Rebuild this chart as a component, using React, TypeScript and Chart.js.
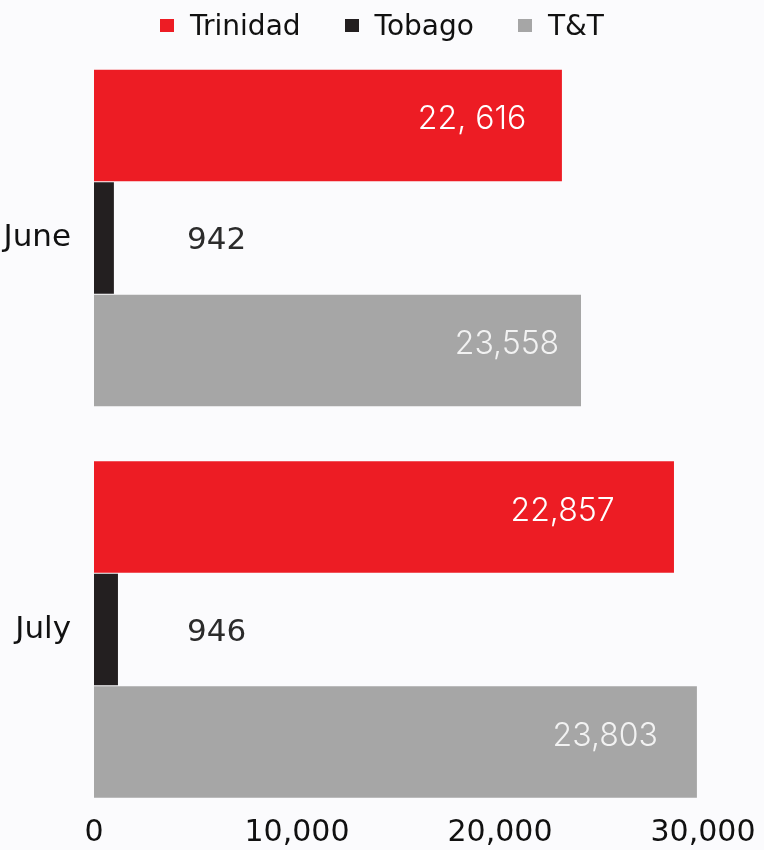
import { useEffect, useRef } from 'react';
import { Chart, registerables } from 'chart.js';

Chart.register(...registerables);

// ---- data ----
const categories = ['June', 'July'];
const seriesNames = ['Trinidad', 'Tobago', 'T&T'];
const trinidadValues = [23050, 28570];
const tobagoValues = [980, 1180];
const ttValues = [23990, 29700];
const trinidadLabels = ['22, 616', '22,857'];
const tobagoLabels = ['942', '946'];
const ttLabels = ['23,558', '23,803'];
const xTickValues = [0, 10000, 20000, 30000];

const seriesColors = ['#ED1C24', '#231F20', '#A6A6A6'];

const valueLabelPlugin = {
  id: 'valueLabels',
  afterDatasetsDraw(chart: any) {
    const ctx = chart.ctx;
    chart.data.datasets.forEach((ds: any, di: number) => {
      const meta = chart.getDatasetMeta(di);
      const labels: string[] = ds.valueLabels;
      meta.data.forEach((bar: any, i: number) => {
        const { x, y, base } = bar.getProps(['x', 'y', 'base'], true);
        ctx.save();
        ctx.textBaseline = 'middle';
        if (ds.labelInside) {
          ctx.font = '300 32px Inter, "Noto Sans", sans-serif';
          ctx.fillStyle = ds.labelColor;
          ctx.textAlign = 'center';
          ctx.fillText(labels[i], base + ds.labelFrac * (x - base), y - 6);
        } else {
          ctx.font = '31px "DejaVu Sans", sans-serif';
          ctx.fillStyle = ds.labelColor;
          ctx.textAlign = 'left';
          ctx.fillText(labels[i], base + 93, y + 3);
        }
        ctx.restore();
      });
    });
  },
};

export default function App() {
  const canvasRef = useRef<HTMLCanvasElement>(null);

  useEffect(() => {
    const valueSets = [trinidadValues, tobagoValues, ttValues];
    const labelSets = [trinidadLabels, tobagoLabels, ttLabels];
    const inside = [true, false, true];
    const fracs = [0.808, 0, 0.848];
    const labelColors = ['#ffffff', '#2b2b2b', '#f2f2f2'];
    const chart = new Chart(canvasRef.current!, {
      type: 'bar',
      data: {
        labels: categories,
        datasets: seriesNames.map((name, i) => ({
          label: name,
          data: valueSets[i],
          backgroundColor: seriesColors[i],
          borderWidth: 0,
          categoryPercentage: 0.863,
          barPercentage: 0.99,
          valueLabels: labelSets[i],
          labelInside: inside[i],
          labelFrac: fracs[i],
          labelColor: labelColors[i],
        })) as any,
      },
      options: {
        indexAxis: 'y',
        animation: false,
        responsive: false,
        layout: { padding: { top: 42.25, right: 61, bottom: 0, left: 0 } },
        plugins: {
          legend: { display: false },
          tooltip: { enabled: false },
        },
        scales: {
          x: {
            min: 0,
            max: 30000,
            border: { display: false },
            grid: { display: false, drawTicks: false },
            afterBuildTicks: (scale: any) => {
              scale.ticks = xTickValues.map((v) => ({ value: v }));
            },
            afterFit: (scale: any) => {
              scale.height = 24.75;
              scale._computeLabelArea = () => undefined;
            },
            ticks: {
              padding: -10,
              color: '#111111',
              font: { family: '"DejaVu Sans"', size: 30 },
              callback: (v: any) => Number(v).toLocaleString('en-US'),
            },
          },
          y: {
            border: { display: false },
            grid: { display: false, drawTicks: false },
            afterFit: (scale: any) => {
              scale.width = 94;
              scale.paddingTop = 0;
              scale.paddingBottom = 0;
            },
            ticks: {
              padding: 23,
              color: '#111111',
              font: { family: '"DejaVu Sans"', size: 31 },
            },
          },
        },
      },
      plugins: [valueLabelPlugin],
    });
    return () => chart.destroy();
  }, []);

  return (
    <div
      style={{
        position: 'absolute',
        left: 0,
        top: 0,
        width: 764,
        height: 850,
        background: '#fbfbfd',
        overflow: 'hidden',
      }}
    >
      <canvas
        ref={canvasRef}
        width={764}
        height={850}
        style={{ position: 'absolute', left: 0, top: 0, width: 764, height: 850 }}
      />
      <div
        style={{
          position: 'absolute',
          top: 9,
          left: 0,
          width: 764,
          display: 'flex',
          justifyContent: 'center',
          alignItems: 'center',
          fontFamily: '"DejaVu Sans", sans-serif',
          fontSize: 28,
          lineHeight: 'normal',
          color: '#111111',
        }}
      >
        {seriesNames.map((name, i) => (
          <div
            key={name}
            style={{ display: 'flex', alignItems: 'center', marginLeft: i ? 44 : 0 }}
          >
            <span
              style={{
                display: 'inline-block',
                width: 14,
                height: 13,
                background: seriesColors[i],
                marginRight: 16,
              }}
            />
            <span>{name}</span>
          </div>
        ))}
      </div>
    </div>
  );
}
